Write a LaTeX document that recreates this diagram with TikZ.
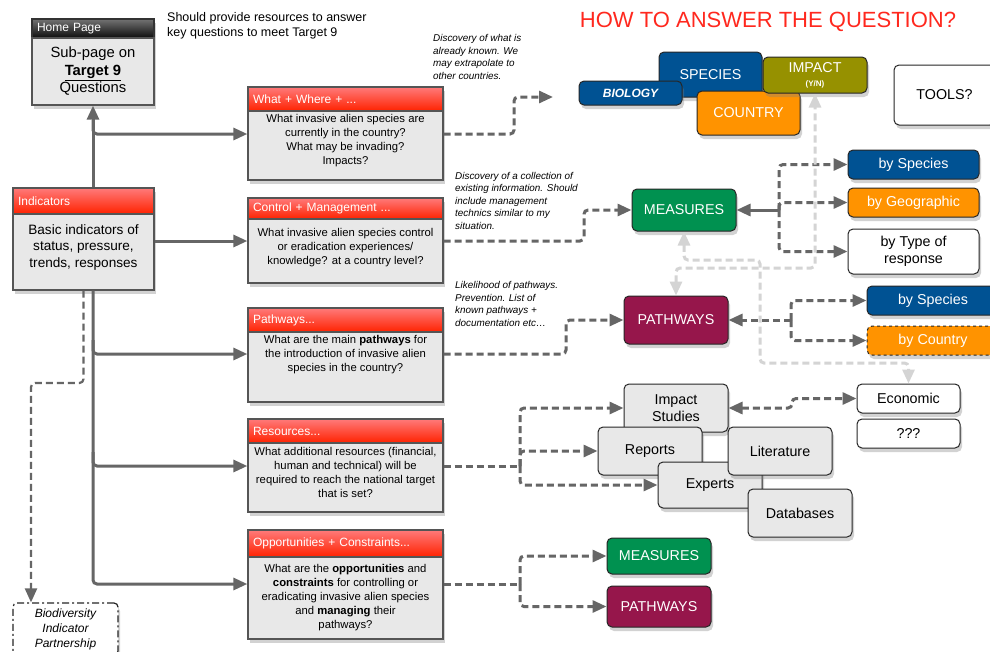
\documentclass[tikz,border=0pt]{standalone}
\usepackage{fontspec}
\setmainfont{Liberation Sans}
\usetikzlibrary{arrows.meta,shadows}
\definecolor{spblue}{RGB}{0,82,147}
\definecolor{sporange}{RGB}{255,147,0}
\definecolor{impol}{RGB}{150,145,0}
\definecolor{msgreen}{RGB}{0,145,80}
\definecolor{pwred}{RGB}{150,22,75}
\definecolor{bodygray}{RGB}{232,232,232}
\definecolor{qline}{RGB}{85,85,85}
\definecolor{lnk}{RGB}{102,102,102}
\definecolor{pale}{RGB}{212,212,212}
\definecolor{hdtop}{RGB}{255,122,122}
\definecolor{hdbot}{RGB}{255,34,0}
\definecolor{ttlred}{RGB}{255,40,30}
\begin{document}
\begin{tikzpicture}[x=1pt,y=-1pt,
  >={Triangle[length=14pt,width=12pt]},
  shd/.style={drop shadow={shadow xshift=2pt,shadow yshift=-4pt,opacity=.35}},
  cbox/.style={draw=black!85,line width=1pt,rounded corners=5pt,text=white,align=center,inner sep=1pt,shd,font=\fontsize{14.3}{17}\selectfont},
  wbox/.style={cbox,fill=white,text=black},
  gbox/.style={cbox,fill=bodygray,text=black},
  qhead/.style={draw=qline,line width=1.3pt,top color=hdtop,bottom color=hdbot,text=white,text width=185,align=left,inner xsep=5pt,inner ysep=0pt,shd,font=\fontsize{12}{14}\selectfont},
  qbody/.style={draw=qline,line width=1.3pt,fill=bodygray,minimum width=195,shd},
  qtext/.style={align=center,text=black,font=\fontsize{11.3}{14}\selectfont},
  note/.style={align=left,anchor=west,inner sep=0pt,font=\fontsize{9.9}{12.5}\selectfont\itshape},
  conn/.style={draw=lnk,line width=3pt,rounded corners=4pt},
  dconn/.style={conn,dash pattern=on 7pt off 4pt},
  lconn/.style={draw=pale,line width=3pt,rounded corners=4pt,dash pattern=on 7pt off 4pt}]
\fill[white] (0,0) rectangle (990,651);
\useasboundingbox (0,0) rectangle (990,651);

\node[text=ttlred,font=\fontsize{22}{26}\selectfont] (title) at (768,22) {HOW TO ANSWER THE QUESTION?};
\node[align=left,anchor=west,inner sep=0pt,font=\fontsize{12.5}{15}\selectfont] (aim) at (167,25.5) {Should provide resources to answer\\key questions to meet Target 9};
\node[note] (n1) at (433,57) {Discovery of what is\\already known. We\\may extrapolate to\\other countries.};
\node[note] (n2) at (455,200.5) {Discovery of a collection of\\existing information. Should\\include management\\technics similar to my\\situation.};
\node[note] (n3) at (455,304) {Likelihood of pathways.\\Prevention. List of\\known pathways +\\documentation etc\dots};

\node[draw=black!80,line width=1.3pt,top color=black!55,bottom color=black!95,text=white,text width=112,align=left,inner xsep=5pt,inner ysep=0pt,minimum height=19,shd,font=\fontsize{12}{14}\selectfont] (homeh) at (93,28.5) {Home Page};
\node[qbody,minimum width=122,minimum height=67,label={[qtext,font=\fontsize{14.8}{17.5}\selectfont]center:{Sub-page on\\\textbf{\underline{Target 9}}\\Questions}}] (home) at (93,71.5) {};
\node[qhead,text width=131,minimum height=26] (indh) at (83.5,201) {Indicators};
\node[qbody,minimum width=141,minimum height=76,label={[qtext,yshift=5pt,font=\fontsize{13.6}{16.5}\selectfont]center:{Basic indicators of\\status, pressure,\\trends, responses}}] (ind) at (83.5,252) {};

\node[qhead,minimum height=24] (q1h) at (345.5,99) {What + Where + ...};
\node[qbody,minimum height=69,label={[qtext,yshift=5pt]center:{What invasive alien species are\\currently in the country?\\What may be invading?\\Impacts?}}] (q1) at (345.5,145.5) {};
\node[qhead,minimum height=21] (q2h) at (345.5,208.5) {Control + Management ...};
\node[qbody,minimum height=64,label={[qtext,yshift=3pt]center:{What invasive alien species control\\or eradication experiences/\\knowledge? at a country level?}}] (q2) at (345.5,251) {};
\node[qhead,minimum height=24] (q3h) at (345.5,320) {Pathways...};
\node[qbody,minimum height=70,label={[qtext,yshift=12pt]center:{What are the main \textbf{pathways} for\\the introduction of invasive alien\\species in the country?}}] (q3) at (345.5,367) {};
\node[qhead,minimum height=24] (q4h) at (345.5,431) {Resources...};
\node[qbody,minimum height=69,label={[qtext,yshift=5pt]center:{What additional resources (financial,\\human and technical) will be\\required to reach the national target\\that is set?}}] (q4) at (345.5,477.5) {};
\node[qhead,minimum height=27] (q5h) at (345.5,543.5) {Opportunities + Constraints...};
\node[qbody,minimum height=82,label={[qtext]center:{What are the \textbf{opportunities} and\\\textbf{constraints} for controlling or\\eradicating invasive alien species\\and \textbf{managing} their\\pathways?}}] (q5) at (345.5,598) {};

\node[draw=black!85,line width=1.2pt,fill=white,rounded corners=4pt,minimum width=105,minimum height=52,align=center,shd,dash pattern=on 7pt off 3pt on 2pt off 3pt,font=\fontsize{12}{15}\selectfont\itshape] (bip) at (65.5,629) {Biodiversity\\Indicator\\Partnership};

\node[cbox,fill=spblue,minimum width=103,minimum height=45] (species) at (710.5,74.5) {SPECIES};
\node[cbox,fill=spblue,minimum width=103,minimum height=24,font=\fontsize{12}{14}\selectfont\bfseries\itshape] (biology) at (630.5,93) {BIOLOGY};
\node[cbox,fill=sporange,minimum width=103,minimum height=44] (country) at (748.5,113) {COUNTRY};
\node[cbox,fill=impol,minimum width=104,minimum height=36] (impact) at (815,75) {IMPACT\\[-3pt]{\fontsize{8}{9}\selectfont\bfseries (Y/N)}};
\node[wbox,minimum width=101,minimum height=60] (tools) at (944.5,95) {TOOLS?};

\node[cbox,fill=msgreen,minimum width=104,minimum height=42] (measures) at (684,210) {MEASURES};
\node[cbox,fill=pwred,minimum width=104,minimum height=48] (pathways) at (676,320) {PATHWAYS};
\node[cbox,fill=spblue,minimum width=131,minimum height=29] (spa) at (913.5,164.5) {by Species};
\node[cbox,fill=sporange,minimum width=131,minimum height=29] (geo) at (913.5,202.5) {by Geographic};
\node[wbox,minimum width=131,minimum height=45] (rtype) at (913.5,251.5) {by Type of\\response};
\node[cbox,fill=spblue,minimum width=132,minimum height=29] (spb) at (933,300.5) {by Species};
\node[cbox,fill=sporange,minimum width=132,minimum height=29,dashed] (ctry) at (933,340.5) {by Country};
\node[wbox,minimum width=103,minimum height=29] (econ) at (908.5,398.5) {Economic};
\node[wbox,minimum width=103,minimum height=29] (unk) at (908.5,433.5) {???};

\node[gbox,minimum width=104,minimum height=48] (impst) at (676,408) {Impact\\Studies};
\node[gbox,minimum width=104,minimum height=48] (reports) at (650,451) {Reports};
\node[gbox,minimum width=104,minimum height=46] (experts) at (710,485) {Experts};
\node[gbox,minimum width=104,minimum height=48] (lit) at (780,451) {Literature};
\node[gbox,minimum width=104,minimum height=48] (dbase) at (800,513) {Databases};
\node[cbox,fill=msgreen,minimum width=104,minimum height=36] (measures2) at (659,556) {MEASURES};
\node[cbox,fill=pwred,minimum width=104,minimum height=41] (pathways2) at (659,606.5) {PATHWAYS};

\coordinate (disc) at (553,97);
\coordinate (rj) at (520,466);
\coordinate (oj) at (520,584);
\coordinate (mj) at (779,210);
\coordinate (pj) at (791,320);

\draw[conn,->] (indh.north -| home.south) -- (home.south);
\draw[conn,->] (93,120) |- (q1.west |- 0,134);
\draw[conn,->] (ind.east |- 0,241) -- (q2.west |- 0,241);
\draw[conn,->] (ind.south -| home.south) |- (q5.west |- 0,584);
\draw[conn,->] (93,340) |- (q3.west |- 0,354);
\draw[conn,->] (93,452) |- (q4.west |- 0,466);
\draw[dconn,->,line width=2.2pt] (ind.south) |- (31,383) -- (bip.north -| 31,0);

\draw[dconn,->] (q1.east |- 0,134) -- (514,134) -- (514,97) -- (disc);
\draw[dconn,->] (q2.east |- 0,241) -- (584,241) |- (measures.west);
\draw[dconn,->] (q3.east |- 0,354) -- (566,354) |- (pathways.west);
\draw[dconn] (q4.east |- rj) -- (rj);
\draw[dconn,->] (rj) |- (impst.west);
\draw[dconn,->] (rj) |- (reports.west);
\draw[dconn,->] (rj) |- (experts.west);
\draw[dconn] (q5.east |- oj) -- (oj);
\draw[dconn,->] (oj) |- (measures2.west);
\draw[dconn,->] (oj) |- (pathways2.west);

\draw[conn,->] (mj) -- (measures.east);
\draw[dconn,->] (mj) |- (spa.west);
\draw[dconn,->] (mj) |- (geo.west);
\draw[dconn,->] (mj) |- (rtype.west);
\draw[dconn,->] (pj) -- (pathways.east);
\draw[dconn,->] (pj) |- (spb.west);
\draw[dconn,->] (pj) |- (ctry.west);
\draw[dconn,<->] (impst.east) -- (792,408) |- (econ.west);

\draw[lconn,<->] (measures.south) -- (684,260) -| (760,363) -| (econ.north);
\draw[lconn,<->] (pathways.north) -- (676,268) -| (impact.south);
\end{tikzpicture}
\end{document}
